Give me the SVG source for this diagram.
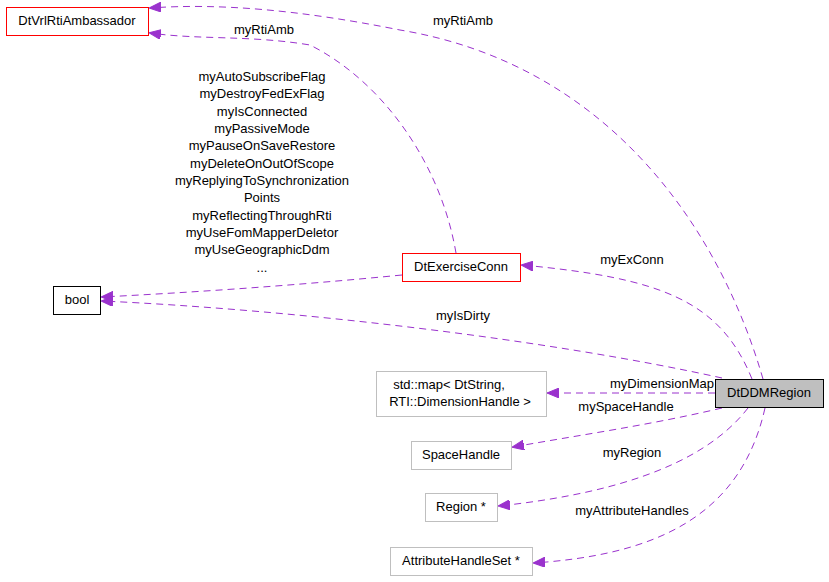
<svg xmlns="http://www.w3.org/2000/svg" width="829" height="582" viewBox="0 0 829 582">
<style>
text{font-family:"Liberation Sans",Arial,sans-serif;font-size:13px;fill:#000;text-anchor:middle}
.e{fill:none;stroke:#9a32cd;stroke-dasharray:7,5;stroke-width:1}
.r{fill:#fff;stroke:#ff0000}
.k{fill:#fff;stroke:#000}
.g{fill:#fff;stroke:#bfbfbf}
</style>
<defs><marker id="a" markerWidth="12" markerHeight="10" refX="11" refY="5" orient="auto" markerUnits="userSpaceOnUse"><path d="M0,0 L12,5 L0,10 z" fill="#9a32cd" stroke="#9a32cd"/></marker></defs>
<rect width="829" height="582" fill="#fff"/>
<g id="edges">
<path class="e" marker-end="url(#a)" d="M763,379 C720,230 610,65 400,30 C300,10 220,3 150,8"/>
<text x="463" y="25">myRtiAmb</text>
<path class="e" marker-end="url(#a)" d="M456,253 C440,160 380,80 310,45 C250,35 200,40 150,33"/>
<text x="264" y="34">myRtiAmb</text>
<path class="e" marker-end="url(#a)" d="M402,275 C300,285 200,292 102,297"/>
<text x="262" y="81">myAutoSubscribeFlag</text>
<text x="262" y="98">myDestroyFedExFlag</text>
<text x="262" y="116">myIsConnected</text>
<text x="262" y="133">myPassiveMode</text>
<text x="262" y="150">myPauseOnSaveRestore</text>
<text x="262" y="168">myDeleteOnOutOfScope</text>
<text x="262" y="185">myReplyingToSynchronization</text>
<text x="262" y="202">Points</text>
<text x="262" y="220">myReflectingThroughRti</text>
<text x="262" y="237">myUseFomMapperDeletor</text>
<text x="262" y="254">myUseGeographicDdm</text>
<text x="262" y="272">...</text>
<path class="e" marker-end="url(#a)" d="M752,379 C720,300 660,278 522,265"/>
<text x="632" y="264">myExConn</text>
<path class="e" marker-end="url(#a)" d="M722,378 C550,340 300,310 102,301"/>
<text x="463" y="320">myIsDirty</text>
<path class="e" marker-end="url(#a)" d="M715,393 L548,393"/>
<text x="662" y="388">myDimensionMap</text>
<path class="e" marker-end="url(#a)" d="M722,408 C650,425 580,435 513,447"/>
<text x="626" y="411">mySpaceHandle</text>
<path class="e" marker-end="url(#a)" d="M748,408 C700,470 600,495 499,506"/>
<text x="632" y="457">myRegion</text>
<path class="e" marker-end="url(#a)" d="M765,408 C740,520 650,555 534,563"/>
<text x="632" y="515">myAttributeHandles</text>
</g>
<g id="n1"><rect class="r" x="6.5" y="7.5" width="142" height="28"/><text x="77" y="25">DtVrlRtiAmbassador</text></g>
<g id="n2"><rect class="k" x="53.5" y="286.5" width="47" height="28"/><text x="77" y="304">bool</text></g>
<g id="n3"><rect class="r" x="402.5" y="253.5" width="118" height="28"/><text x="461" y="271">DtExerciseConn</text></g>
<g id="n4"><rect x="715.5" y="379.5" width="108" height="28" fill="#bfbfbf" stroke="#000"/><text x="769" y="397">DtDDMRegion</text></g>
<g id="n5"><rect class="g" x="376.5" y="371.5" width="170" height="45"/><text x="449" y="389">std::map&lt; DtString,</text><text x="460" y="406">RTI::DimensionHandle &gt;</text></g>
<g id="n6"><rect class="g" x="411.5" y="441.5" width="100" height="28"/><text x="461" y="459">SpaceHandle</text></g>
<g id="n7"><rect class="g" x="425.5" y="493.5" width="72" height="28"/><text x="461" y="511">Region *</text></g>
<g id="n8"><rect class="g" x="390.5" y="547.5" width="142" height="28"/><text x="461" y="565">AttributeHandleSet *</text></g>
</svg>
